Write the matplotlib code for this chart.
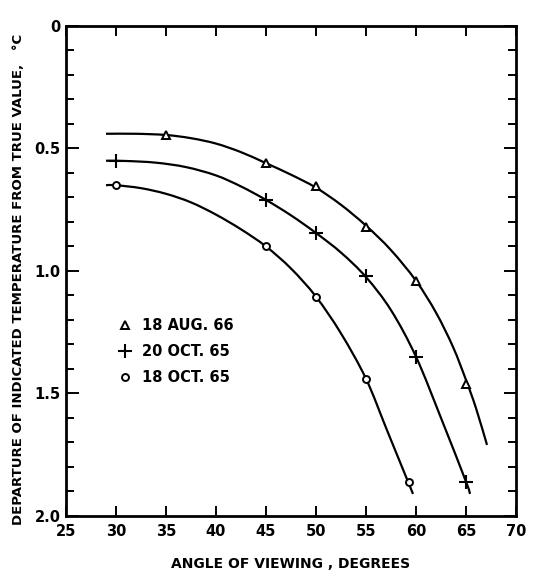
import numpy as np
import matplotlib.pyplot as plt
from matplotlib.path import Path
from matplotlib.patches import PathPatch
from matplotlib.ticker import MultipleLocator, FixedLocator

# marker readings (angle, departure degC)
tri_x = [35, 45, 50, 55, 60, 65]
tri_y = [0.445, 0.56, 0.655, 0.82, 1.04, 1.46]
plus_x = [30, 45, 50, 55, 60, 65]
plus_y = [0.55, 0.71, 0.845, 1.02, 1.35, 1.86]
circ_x = [30, 45, 50, 55, 59.3]
circ_y = [0.65, 0.90, 1.105, 1.44, 1.86]

# hand drawn curves
tri_cx = [29, 32, 35, 37.5, 40, 42.5, 45, 47.5, 50, 52.5, 55, 57.5, 60, 62, 63.7, 65, 66, 67.1]
tri_cy = [0.44, 0.44, 0.445, 0.458, 0.48, 0.515, 0.56, 0.607, 0.66, 0.73, 0.815, 0.915, 1.04, 1.17, 1.31, 1.445, 1.56, 1.71]
plus_cx = [29, 31, 34, 37, 40, 42.5, 45, 47.5, 50, 52.5, 55, 57.5, 60, 62.5, 65, 65.4]
plus_cy = [0.55, 0.551, 0.558, 0.576, 0.61, 0.655, 0.71, 0.773, 0.845, 0.925, 1.025, 1.16, 1.35, 1.6, 1.86, 1.91]
circ_cx = [29, 30, 32.5, 35, 37.5, 40, 42.5, 45, 47.5, 50, 52.5, 55, 57.1, 59.2, 59.7]
circ_cy = [0.65, 0.65, 0.662, 0.685, 0.72, 0.77, 0.83, 0.90, 0.99, 1.105, 1.255, 1.44, 1.65, 1.86, 1.91]

labels = ['18 AUG. 66', '20 OCT. 65', '18 OCT. 65']
yticks = [0, 0.5, 1.0, 1.5, 2.0]
ytick_labels = ['0', '0.5', '1.0', '1.5', '2.0']


def smooth_curve(ax, xs, ys, lw):
    # catmull-rom through the read vertices, drawn as cubic bezier segments
    p = np.column_stack([xs, ys])
    verts = [p[0]]
    codes = [Path.MOVETO]
    for i in range(len(p) - 1):
        p0 = p[i - 1] if i > 0 else p[i]
        p3 = p[i + 2] if i + 2 < len(p) else p[i + 1]
        c1 = p[i] + (p[i + 1] - p0) / 6
        c2 = p[i + 1] - (p3 - p[i]) / 6
        verts += [c1, c2, p[i + 1]]
        codes += [Path.CURVE4] * 3
    ax.add_patch(PathPatch(Path(verts, codes), fill=False, lw=lw, ec='k',
                           capstyle='butt'))


plt.rcParams['font.family'] = 'DejaVu Sans'
plt.rcParams['font.weight'] = 'bold'

fig = plt.figure(figsize=(5.34, 5.76), dpi=100)
ax = fig.add_axes([0.1236, 0.1042, 0.8427, 0.8507])

lw = 1.6
smooth_curve(ax, tri_cx, tri_cy, lw)
smooth_curve(ax, plus_cx, plus_cy, lw)
smooth_curve(ax, circ_cx, circ_cy, lw)

h1, = ax.plot(tri_x, tri_y, '^', ms=6, mfc='white', mec='k', mew=1.4, ls='none', label=labels[0])
h2, = ax.plot(plus_x, plus_y, '+', ms=10, mec='k', mew=1.5, ls='none', label=labels[1])
h3, = ax.plot(circ_x, circ_y, 'o', ms=5, mfc='white', mec='k', mew=1.4, ls='none', label=labels[2])

ax.set_xlim(25, 70)
ax.set_ylim(2.0, 0)

ax.xaxis.set_major_locator(MultipleLocator(5))
ax.yaxis.set_major_locator(FixedLocator(yticks))
ax.set_yticklabels(ytick_labels)
ax.yaxis.set_minor_locator(MultipleLocator(0.1))
ax.tick_params(axis='both', which='both', direction='in', width=1.4, labelsize=10.5)
ax.tick_params(axis='x', which='major', length=7, top=True, pad=6)
ax.tick_params(axis='y', which='major', length=9, right=True, pad=4)
ax.tick_params(axis='y', which='minor', length=6, right=True)
for s in ax.spines.values():
    s.set_linewidth(2)

leg = ax.legend(handles=[h1, h2, h3], loc='upper left', bbox_to_anchor=(0.09, 0.43),
                frameon=False, handlelength=0.8, handletextpad=0.7, labelspacing=0.75,
                fontsize=10.5)

ax.set_xlabel('ANGLE OF VIEWING , DEGREES', fontsize=10, fontweight='bold', labelpad=13)
fig.text(0.034, 0.515, 'DEPARTURE OF INDICATED TEMPERATURE FROM TRUE VALUE,   \u00b0C',
         rotation=90, ha='center', va='center', fontsize=9.5, fontweight='bold')

plt.savefig('out.png', dpi=100)
